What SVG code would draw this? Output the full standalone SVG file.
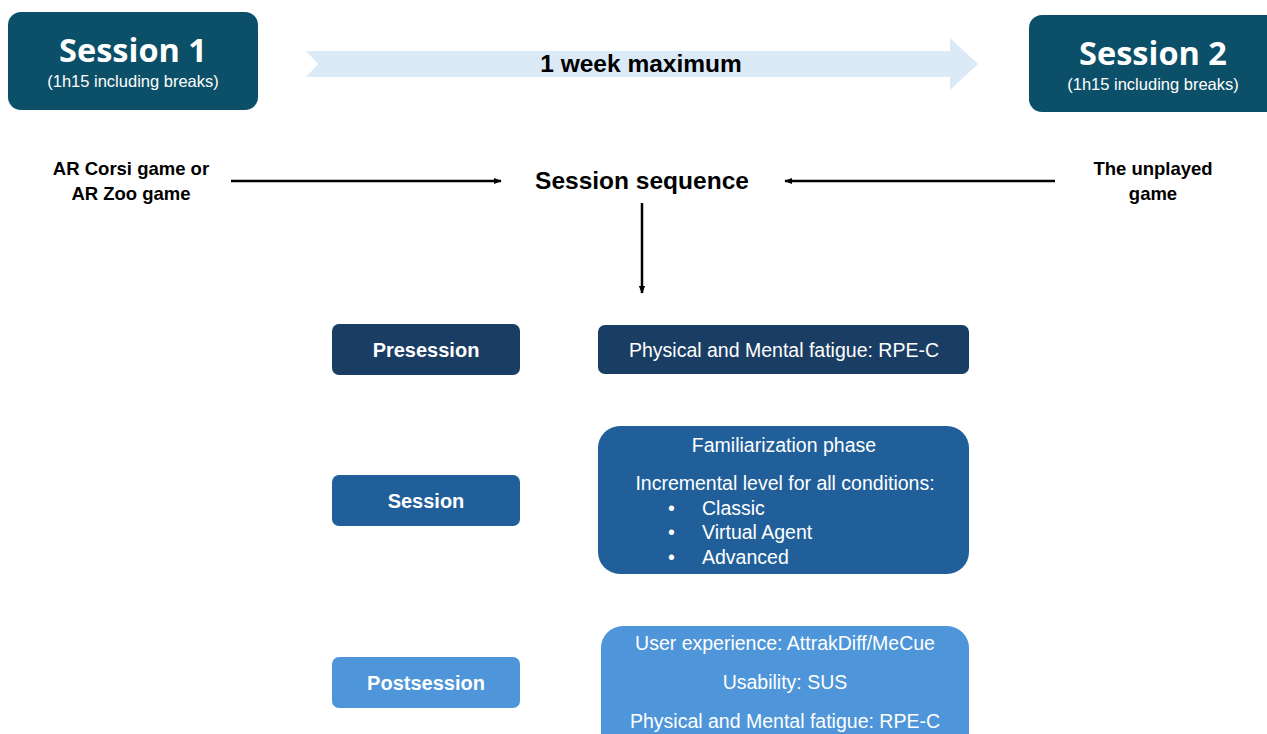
<svg xmlns="http://www.w3.org/2000/svg" width="1267" height="734" viewBox="0 0 1267 734">
<defs>
<marker id="ah2" viewBox="0 0 10 10" refX="9" refY="5" markerWidth="8" markerHeight="8" orient="auto" markerUnits="userSpaceOnUse">
<path d="M0,1 L10,5 L0,9 z" fill="#000"/>
</marker>
<style>
text{font-family:"Liberation Sans",Arial,sans-serif;}
.w{fill:#fff;text-anchor:middle;}
.k{fill:#000;text-anchor:middle;font-weight:bold;}
.big{font-size:32.5px;font-family:"Open Sans","Liberation Sans",sans-serif;font-weight:bold;}
.sub{font-size:16.5px;}
.lbl{font-size:20px;font-weight:bold;}
.t{font-size:19.5px;}
.conn{stroke:#000;stroke-width:2.5;fill:none;}
</style>
</defs>
<rect width="1267" height="734" fill="#fff"/>

<g id="session1">
<rect x="8" y="12" width="250" height="98" rx="13" fill="#0c4f68"/>
<text class="w big" x="133" y="62">Session 1</text>
<text class="w sub" x="133" y="87">(1h15 including breaks)</text>
</g>

<g id="timeline">
<polygon points="306,51 950,51 950,38 978,64 950,90 950,77 306,77 318,64" fill="#dce9f6"/>
<text class="k" x="641" y="72" font-size="24.5">1 week maximum</text>
</g>

<g id="session2">
<rect x="1029" y="15" width="250" height="97" rx="13" fill="#0c4f68"/>
<text class="w big" x="1153" y="65">Session 2</text>
<text class="w sub" x="1153" y="90">(1h15 including breaks)</text>
</g>

<g id="game1">
<text class="k" x="131" y="175" font-size="18.5">AR Corsi game or</text>
<text class="k" x="131" y="200" font-size="18.5">AR Zoo game</text>
</g>

<g id="sequence">
<text class="k" x="642" y="189" font-size="24.5">Session sequence</text>
</g>

<g id="game2">
<text class="k" x="1153" y="175" font-size="18.5">The unplayed</text>
<text class="k" x="1153" y="200" font-size="18.5">game</text>
</g>

<g id="connectors">
<line class="conn" x1="231" y1="181" x2="501" y2="181" marker-end="url(#ah2)"/>
<line class="conn" x1="1055" y1="181" x2="785" y2="181" marker-end="url(#ah2)"/>
<line class="conn" x1="642" y1="203" x2="642" y2="293" marker-end="url(#ah2)"/>
</g>

<g id="presession">
<rect x="332" y="324" width="188" height="51" rx="7" fill="#1a3d63"/>
<text class="w lbl" x="426" y="357">Presession</text>
</g>
<g id="presession-detail">
<rect x="598" y="325" width="371" height="49" rx="7" fill="#1a3d63"/>
<text class="w t" x="784" y="357">Physical and Mental fatigue: RPE-C</text>
</g>

<g id="session">
<rect x="332" y="475" width="188" height="51" rx="7" fill="#215f9a"/>
<text class="w lbl" x="426" y="508">Session</text>
</g>
<g id="session-detail">
<rect x="598" y="426" width="371" height="148" rx="22" fill="#215f9a"/>
<text class="w t" x="784" y="452">Familiarization phase</text>
<text class="w t" x="785" y="490">Incremental level for all conditions:</text>
<g fill="#fff" font-size="19.5">
<text x="668" y="515">•</text><text x="702" y="515">Classic</text>
<text x="668" y="539">•</text><text x="702" y="539">Virtual Agent</text>
<text x="668" y="564">•</text><text x="702" y="564">Advanced</text>
</g>
</g>

<g id="postsession">
<rect x="332" y="657" width="188" height="51" rx="7" fill="#4e95d9"/>
<text class="w lbl" x="426" y="690">Postsession</text>
</g>
<g id="postsession-detail">
<rect x="601" y="626" width="368" height="130" rx="22" fill="#4e95d9"/>
<text class="w t" x="785" y="650">User experience: AttrakDiff/MeCue</text>
<text class="w t" x="785" y="689">Usability: SUS</text>
<text class="w t" x="785" y="728">Physical and Mental fatigue: RPE-C</text>
</g>
</svg>
